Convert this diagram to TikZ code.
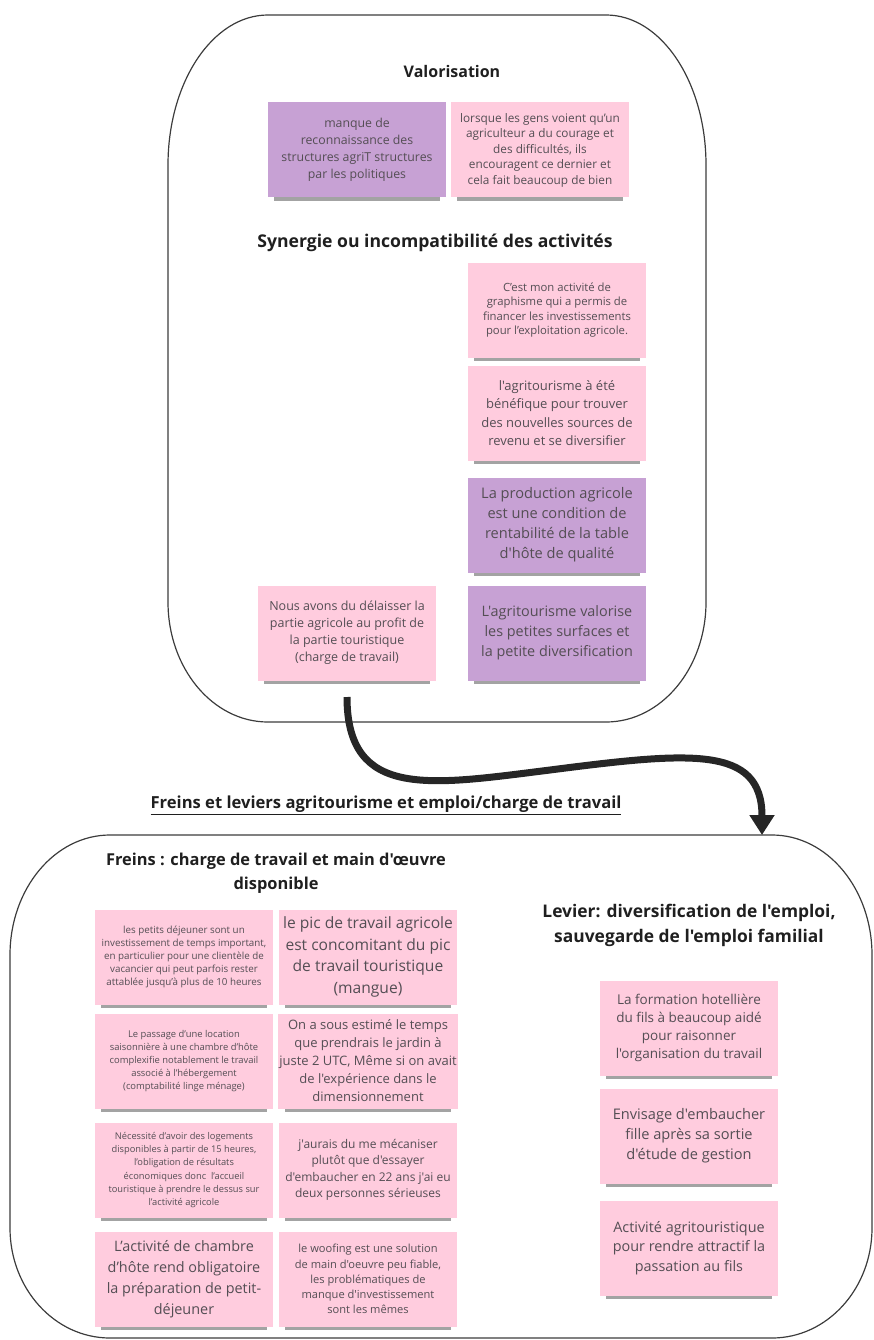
\documentclass[tikz,border=0pt]{standalone}
\usepackage{fontspec}
\setmainfont{Open Sans}[Ligatures=TeXOff]
\usetikzlibrary{arrows.meta,shadows}
\definecolor{postpink}{RGB}{255,204,222}
\definecolor{postlilac}{RGB}{199,161,212}
\definecolor{postink}{RGB}{84,78,84}
\definecolor{frameline}{RGB}{60,60,60}
\newcommand{\psize}[2]{\fontsize{#1}{#2}\selectfont}
\tikzset{
  postit/.style={fill=postpink, minimum width=178pt, minimum height=95pt, inner sep=1pt, align=center, text=postink,
    drop shadow={shadow xshift=0pt, shadow yshift=-7pt, shadow scale=0.93, opacity=0.45, fill=black!80}},
  lilac/.style={postit, fill=postlilac},
  heading/.style={align=center, text=black!88},
  frame/.style={draw=frameline, line width=1.2pt},
  flow/.style={line width=7pt, draw=black!85, -{Triangle[width=24pt, length=20pt]}},
}
\begin{document}
\begin{tikzpicture}[x=1pt, y=1pt]
	  \useasboundingbox (0,0) rectangle (874,-1340);
	  % the two frames
	  \draw[frame] (268,-15) -- (606,-15) arc[start angle=90, end angle=0, x radius=100, y radius=150] -- (706,-602) arc[start angle=0, end angle=-90, x radius=100, y radius=120] -- (268,-722) arc[start angle=270, end angle=180, x radius=100, y radius=120] -- (168,-165) arc[start angle=180, end angle=90, x radius=100, y radius=150] -- cycle;
	  \draw[frame] (110,-835) -- (772,-835) arc[start angle=90, end angle=0, x radius=100, y radius=120] -- (872,-1228) arc[start angle=0, end angle=-90, x radius=100, y radius=110] -- (110,-1338) arc[start angle=270, end angle=180, x radius=100, y radius=110] -- (10,-955) arc[start angle=180, end angle=90, x radius=100, y radius=120] -- cycle;
	  % valorisation / synergie
	  \node[heading, font=\psize{16}{19}\bfseries] (valo) at (452,-72) {Valorisation};
	  \node[lilac, font=\psize{12.3}{17}] (reco) at (357,-150) {manque de\\reconnaissance des\\structures agriT structures\\par les politiques};
	  \node[postit, font=\psize{11.8}{15.5}] (courage) at (540,-150) {lorsque les gens voient qu’un\\agriculteur a du courage et\\des difficultés, ils\\encouragent ce dernier et\\cela fait beaucoup de bien};
	  \node[heading, font=\psize{17.6}{21}\bfseries] (syn) at (435,-243) {Synergie ou incompatibilité des activités};
	  \node[postit, font=\psize{11.3}{14.5}] (graph) at (557,-310) {C’est mon activité de\\graphisme qui a permis de\\financer les investissements\\pour l’exploitation agricole.};
	  \node[postit, font=\psize{13}{18.5}] (benef) at (557,-413) {l'agritourisme à été\\bénéfique pour trouver\\des nouvelles sources de\\revenu et se diversifier};
	  \node[lilac, font=\psize{14.6}{20}] (prod) at (557,-525) {La production agricole\\est une condition de\\rentabilité de la table\\d'hôte de qualité};
	  \node[lilac, font=\psize{14.4}{20}] (surf) at (557,-633) {L'agritourisme valorise\\les petites surfaces et\\la petite diversification};
	  \node[postit, font=\psize{12.5}{17}] (delaiss) at (347,-633) {Nous avons du délaisser la\\partie agricole au profit de\\la partie touristique\\(charge de travail)};
	  \coordinate (arrowfrom) at (347,-697);
	  \coordinate (arrowto) at (762,-835);
	  \draw[flow] (arrowfrom) .. controls (347,-800) and (430,-785) .. (550,-770) .. controls (690,-752) and (762,-745) .. (arrowto);
	  \node[heading, font=\psize{16.6}{20}\bfseries] (titre) at (386,-805) {\underline{Freins et leviers agritourisme et emploi/charge de travail}};
	  % freins
	  \node[heading, font=\psize{16.4}{24.5}\bfseries] (freins) at (276,-873) {Freins : charge de travail et main d'œuvre\\disponible};
	  \node[postit, font=\psize{9.8}{13}] (dej) at (184,-957) {les petits déjeuner sont un\\investissement de temps important,\\en particulier pour une clientèle de\\vacancier qui peut parfois rester\\attablée jusqu’à plus de 10 heures};
	  \node[postit, font=\psize{15.6}{21.5}] (pic) at (368,-957) {le pic de travail agricole\\est concomitant du pic\\de travail touristique\\(mangue)};
	  \node[postit, font=\psize{9.4}{13}] (loc) at (184,-1061) {Le passage d’une location\\saisonnière à une chambre d’hôte\\complexifie notablement le travail\\associé à l’hébergement\\(comptabilité linge ménage)};
	  \node[postit, font=\psize{13}{18}] (jardin) at (368,-1061) {On a sous estimé le temps\\que prendrais le jardin à\\juste 2 UTC, Même si on avait\\de l'expérience dans le\\dimensionnement};
	  \node[postit, font=\psize{9.3}{13.2}] (loge) at (184,-1170) {Nécessité d’avoir des logements\\disponibles à partir de 15 heures,\\l’obligation de résultats\\économiques donc\ \ l’accueil\\touristique à prendre le dessus sur\\l’activité agricole};
	  \node[postit, font=\psize{12}{16.5}] (meca) at (368,-1170) {j'aurais du me mécaniser\\plutôt que d'essayer\\d'embaucher en 22 ans j'ai eu\\deux personnes sérieuses};
	  \node[postit, font=\psize{14.4}{21}] (chambre) at (184,-1279) {L’activité de chambre\\d’hôte rend obligatoire\\la préparation de petit-\\déjeuner};
	  \node[postit, font=\psize{11.1}{15.2}] (woof) at (368,-1279) {le woofing est une solution\\de main d'oeuvre peu fiable,\\les problématiques de\\manque d'investissement\\sont les mêmes};
	  % leviers
	  \node[heading, font=\psize{17.4}{25}\bfseries] (levier) at (689,-925) {Levier: diversification de l'emploi,\\sauvegarde de l'emploi familial};
	  \node[postit, font=\psize{13.5}{18}] (hotel) at (689,-1028) {La formation hotellière\\du fils à beaucoup aidé\\pour raisonner\\l'organisation du travail};
	  \node[postit, font=\psize{14.6}{20}] (fille) at (689,-1136) {Envisage d'embaucher\\fille après sa sortie\\d'étude de gestion};
	  \node[postit, font=\psize{14.4}{19.5}] (fils) at (689,-1248) {Activité agritouristique\\pour rendre attractif la\\passation au fils};
	\end{tikzpicture}
\end{document}
